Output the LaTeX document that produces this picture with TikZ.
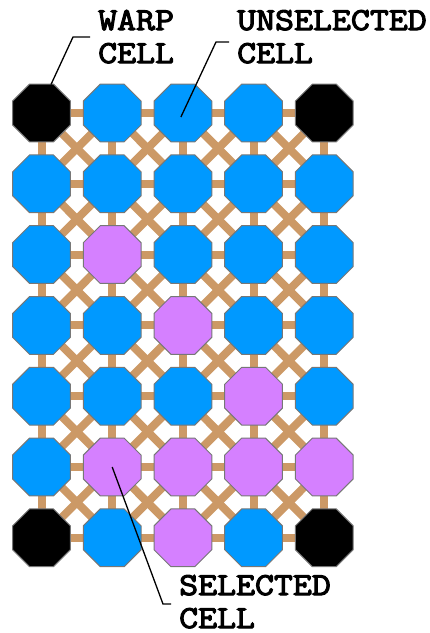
\documentclass[tikz,border=0pt]{standalone}
\usepackage{fontspec}
\usepackage{tikz}
\usepackage{xcolor}
\usetikzlibrary{shapes.geometric,backgrounds,calc}
\newfontfamily\tagfont{Latin Modern Mono}[FakeBold=3.5,FakeStretch=1.15]
\definecolor{cellblue}{HTML}{0099FF}
\definecolor{cellpink}{HTML}{D580FF}
\definecolor{warpblack}{HTML}{000000}
\definecolor{rimgray}{HTML}{777777}
\definecolor{linktan}{HTML}{CC9966}
\tikzset{
  cellbase/.style={regular polygon,regular polygon sides=8,minimum size=62.5pt,
                   inner sep=0pt,draw=rimgray,line width=1pt},
  warpcell/.style={cellbase,fill=warpblack},
  freecell/.style={cellbase,fill=cellblue},
  pickcell/.style={cellbase,fill=cellpink},
  link/.style={draw=linktan,line width=8pt},
  tag/.style={anchor=base west,align=left,inner xsep=8pt,inner ysep=0pt,
              font=\tagfont\fontsize{32}{33}\selectfont},
  leader/.style={draw=black,line width=1.3pt}
}

\begin{document}
\begin{tikzpicture}[x=1pt,y=-1pt]
    \useasboundingbox (0,0) rectangle (430,633);

    % the cell array, row by row
    \foreach \i/\kinds in {1/{warp,free,free,free,warp},2/{free,free,free,free,free},
                           3/{free,pick,free,free,free},4/{free,free,pick,free,free},
                           5/{free,free,free,pick,free},6/{free,pick,pick,pick,pick},
                           7/{warp,free,pick,free,warp}} {
      \foreach \kind [count=\j] in \kinds {
        \node[\kind cell] (c-\i-\j) at ({41.5+70.7*(\j-1)},{113+70.8*(\i-1)}) {};
      }
    }

    % links behind the cells
    \begin{scope}[on background layer]
      \foreach \i in {1,...,7} {
        \foreach \j in {1,...,5} {
          \pgfmathtruncatemacro{\ni}{\i+1}
          \pgfmathtruncatemacro{\nj}{\j+1}
          \ifnum\j<5 \draw[link] (c-\i-\j.center) -- (c-\i-\nj.center); \fi
          \ifnum\i<7 \draw[link] (c-\i-\j.center) -- (c-\ni-\j.center); \fi
          \ifnum\i<7 \ifnum\j<5
            \draw[link] (c-\i-\j.center) -- (c-\ni-\nj.center);
            \draw[link] (c-\i-\nj.center) -- (c-\ni-\j.center);
          \fi\fi
        }
      }
    \end{scope}

    % labels (base is the last line)
    \node[tag] (warpLbl) at (90,63) {WARP\\CELL};
    \node[tag] (unselLbl) at (229,63) {UNSELECTED\\CELL};
    \node[tag] (selLbl) at (171,628) {SELECTED\\CELL};

    \coordinate (warpKnee) at (73,37);
    \coordinate (unselKnee) at (216,42);
    \coordinate (selKnee) at (163,604);
    \draw[leader] (warpLbl.west |- warpKnee) -- (warpKnee) -- ($(c-1-1.center)+(9.5,-28.5)$);
    \draw[leader] (unselLbl.west |- unselKnee) -- (unselKnee) -- ($(c-1-3.center)+(-2,4)$);
    \draw[leader] (selLbl.west |- selKnee) -- (selKnee) -- (c-6-2.center);
\end{tikzpicture}
\end{document}
